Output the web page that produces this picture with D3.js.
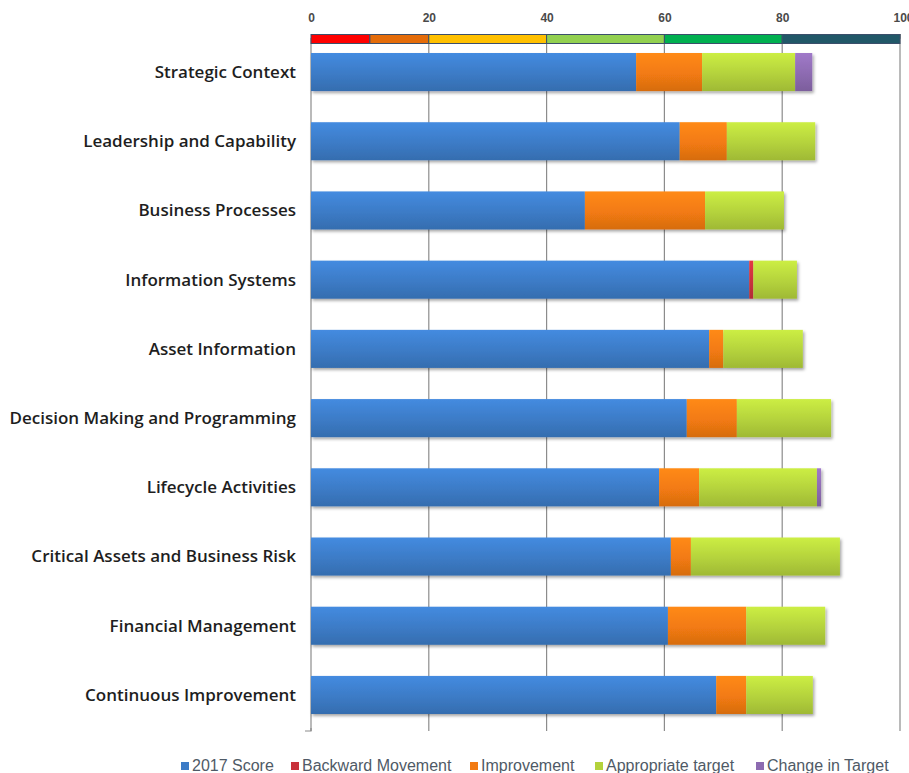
<!DOCTYPE html>
<html>
<head>
<meta charset="utf-8">
<script src="https://cdn.jsdelivr.net/npm/d3@7"></script>
<style>
  body { margin: 0; background: #fff; }
  svg { display: block; }
</style>
</head>
<body>
<div id="chart"></div>
<script>
const categories = ["Strategic Context", "Leadership and Capability", "Business Processes",
  "Information Systems", "Asset Information", "Decision Making and Programming",
  "Lifecycle Activities", "Critical Assets and Business Risk", "Financial Management",
  "Continuous Improvement"]
const seriesNames = ["2017 Score", "Backward Movement", "Improvement", "Appropriate target", "Change in Target"]
const score2017   = [55.2, 62.6, 46.5, 74.4, 67.6, 63.8, 59.1, 61.1, 60.6, 68.8]
const backward    = [0, 0, 0, 0.7, 0, 0, 0, 0, 0, 0]
const improvement = [11.2, 8.0, 20.4, 0, 2.4, 8.5, 6.8, 3.4, 13.3, 5.1]
const approTarget = [15.8, 15.0, 13.4, 7.4, 13.5, 16.0, 20.0, 25.3, 13.4, 11.3]
const changeTarget = [2.9, 0, 0, 0, 0, 0, 0.7, 0, 0, 0]
const colours = ["#3c7bc6", "#c8323c", "#f27a12", "#b4d23c", "#8d6bb1"]
const bandStops = [0, 10, 20, 40, 60, 80, 100]
const bandColours = ["#ff0000", "#e46c0a", "#ffc000", "#92d050", "#00b050", "#215868"]
const xTicks = [0, 20, 40, 60, 80, 100]

const width = 909, height = 773
const margin = {left: 311, right: 9, top: 38, bottom: 43}

const svg = d3.select("#chart").append("svg")
  .attr("width", width)
  .attr("height", height)

const defs = svg.append("defs")
colours.forEach((c, i) => {
  let g = defs.append("linearGradient").attr("id", "grad" + i)
    .attr("x1", 0).attr("y1", 0).attr("x2", 0).attr("y2", 1)
  g.append("stop").attr("offset", "0%").attr("stop-color", d3.color(c).brighter(0.35))
  g.append("stop").attr("offset", "55%").attr("stop-color", c)
  g.append("stop").attr("offset", "100%").attr("stop-color", d3.color(c).darker(0.35))
})
let shadow = defs.append("filter").attr("id", "shadow")
  .attr("x", "-5%").attr("y", "-20%").attr("width", "115%").attr("height", "160%")
shadow.append("feDropShadow").attr("dx", 1.5).attr("dy", 2).attr("stdDeviation", 1.5)
  .attr("flood-color", "#000").attr("flood-opacity", 0.35)

const x = d3.scaleLinear().domain([0, 100]).range([margin.left, width - margin.right])
const y = d3.scaleBand().domain(categories).range([53, 714]).paddingInner(0.45).paddingOuter(0)

// gridlines
svg.append("g")
  .selectAll("line")
  .data(xTicks)
  .enter()
  .append("line")
  .attr("x1", d => x(d)).attr("x2", d => x(d))
  .attr("y1", margin.top).attr("y2", 731)
  .attr("stroke", "#8c8c8c")
  .attr("stroke-width", 1.2)

// bottom hook at 0
svg.append("path")
  .attr("d", `M${x(0)},728 L${x(0)},731 L${x(0) - 6},731`)
  .attr("fill", "none").attr("stroke", "#8c8c8c").attr("stroke-width", 1.2)

// top axis
const xAxis = d3.axisTop(x).tickValues(xTicks).tickSize(4).tickPadding(12)
const axisG = svg.append("g")
  .attr("transform", "translate(0," + margin.top + ")")
  .call(xAxis)
axisG.select(".domain").attr("stroke", "#8c8c8c")
axisG.selectAll(".tick line").attr("stroke", "#8c8c8c")
axisG.selectAll("text")
  .attr("font-family", "Liberation Sans, Arial, sans-serif")
  .attr("font-size", 12)
  .attr("font-weight", "bold")
  .attr("fill", "#4a4a4a")
  .attr("text-anchor", d => d == 100 ? "start" : "middle")
  .attr("dx", d => d == 100 ? -7 : 0)

// colour band
svg.append("g")
  .selectAll("rect")
  .data(bandColours)
  .enter()
  .append("rect")
  .attr("x", (d, i) => x(bandStops[i]))
  .attr("width", (d, i) => x(bandStops[i + 1]) - x(bandStops[i]))
  .attr("y", 34.5)
  .attr("height", 9)
  .attr("fill", d => d)
  .attr("stroke", "#3b4f6b")
  .attr("stroke-width", 1)

// stacked bars
const rows = categories.map((c, i) => ({
  cat: c,
  vals: [score2017[i], backward[i], improvement[i], approTarget[i], changeTarget[i]]
}))
const barsG = svg.append("g").attr("filter", "url(#shadow)")
rows.forEach(r => {
  let start = 0
  r.vals.forEach((v, j) => {
    if (v > 0) {
      barsG.append("rect")
        .attr("x", x(start))
        .attr("y", y(r.cat))
        .attr("width", x(start + v) - x(start))
        .attr("height", y.bandwidth())
        .attr("fill", "url(#grad" + j + ")")
    }
    start += v
  })
})

// category labels
svg.append("g")
  .selectAll("text")
  .data(categories)
  .enter()
  .append("text")
  .attr("x", 296)
  .attr("y", d => y(d) + y.bandwidth() / 2)
  .attr("dy", "0.35em")
  .attr("text-anchor", "end")
  .attr("font-family", "Open Sans, Liberation Sans, Arial, sans-serif")
  .attr("font-size", 17)
  .attr("font-weight", 600)
  .attr("fill", "#1e1e1e")
  .text(d => d)

// legend
const legendX = [181, 291, 470, 595, 756]
const legend = svg.append("g")
  .selectAll("g")
  .data(seriesNames)
  .enter()
  .append("g")
  .attr("transform", (d, i) => "translate(" + legendX[i] + ",762)")
legend.append("rect")
  .attr("width", 8).attr("height", 8).attr("y", 0)
  .attr("fill", (d, i) => colours[i])
legend.append("text")
  .attr("x", 11)
  .attr("y", 9)
  .attr("font-family", "Liberation Sans Narrow, Liberation Sans, Arial, sans-serif")
  .attr("font-size", 16)
  .attr("fill", "#4f5a66")
  .text(d => d)
</script>
</body>
</html>
